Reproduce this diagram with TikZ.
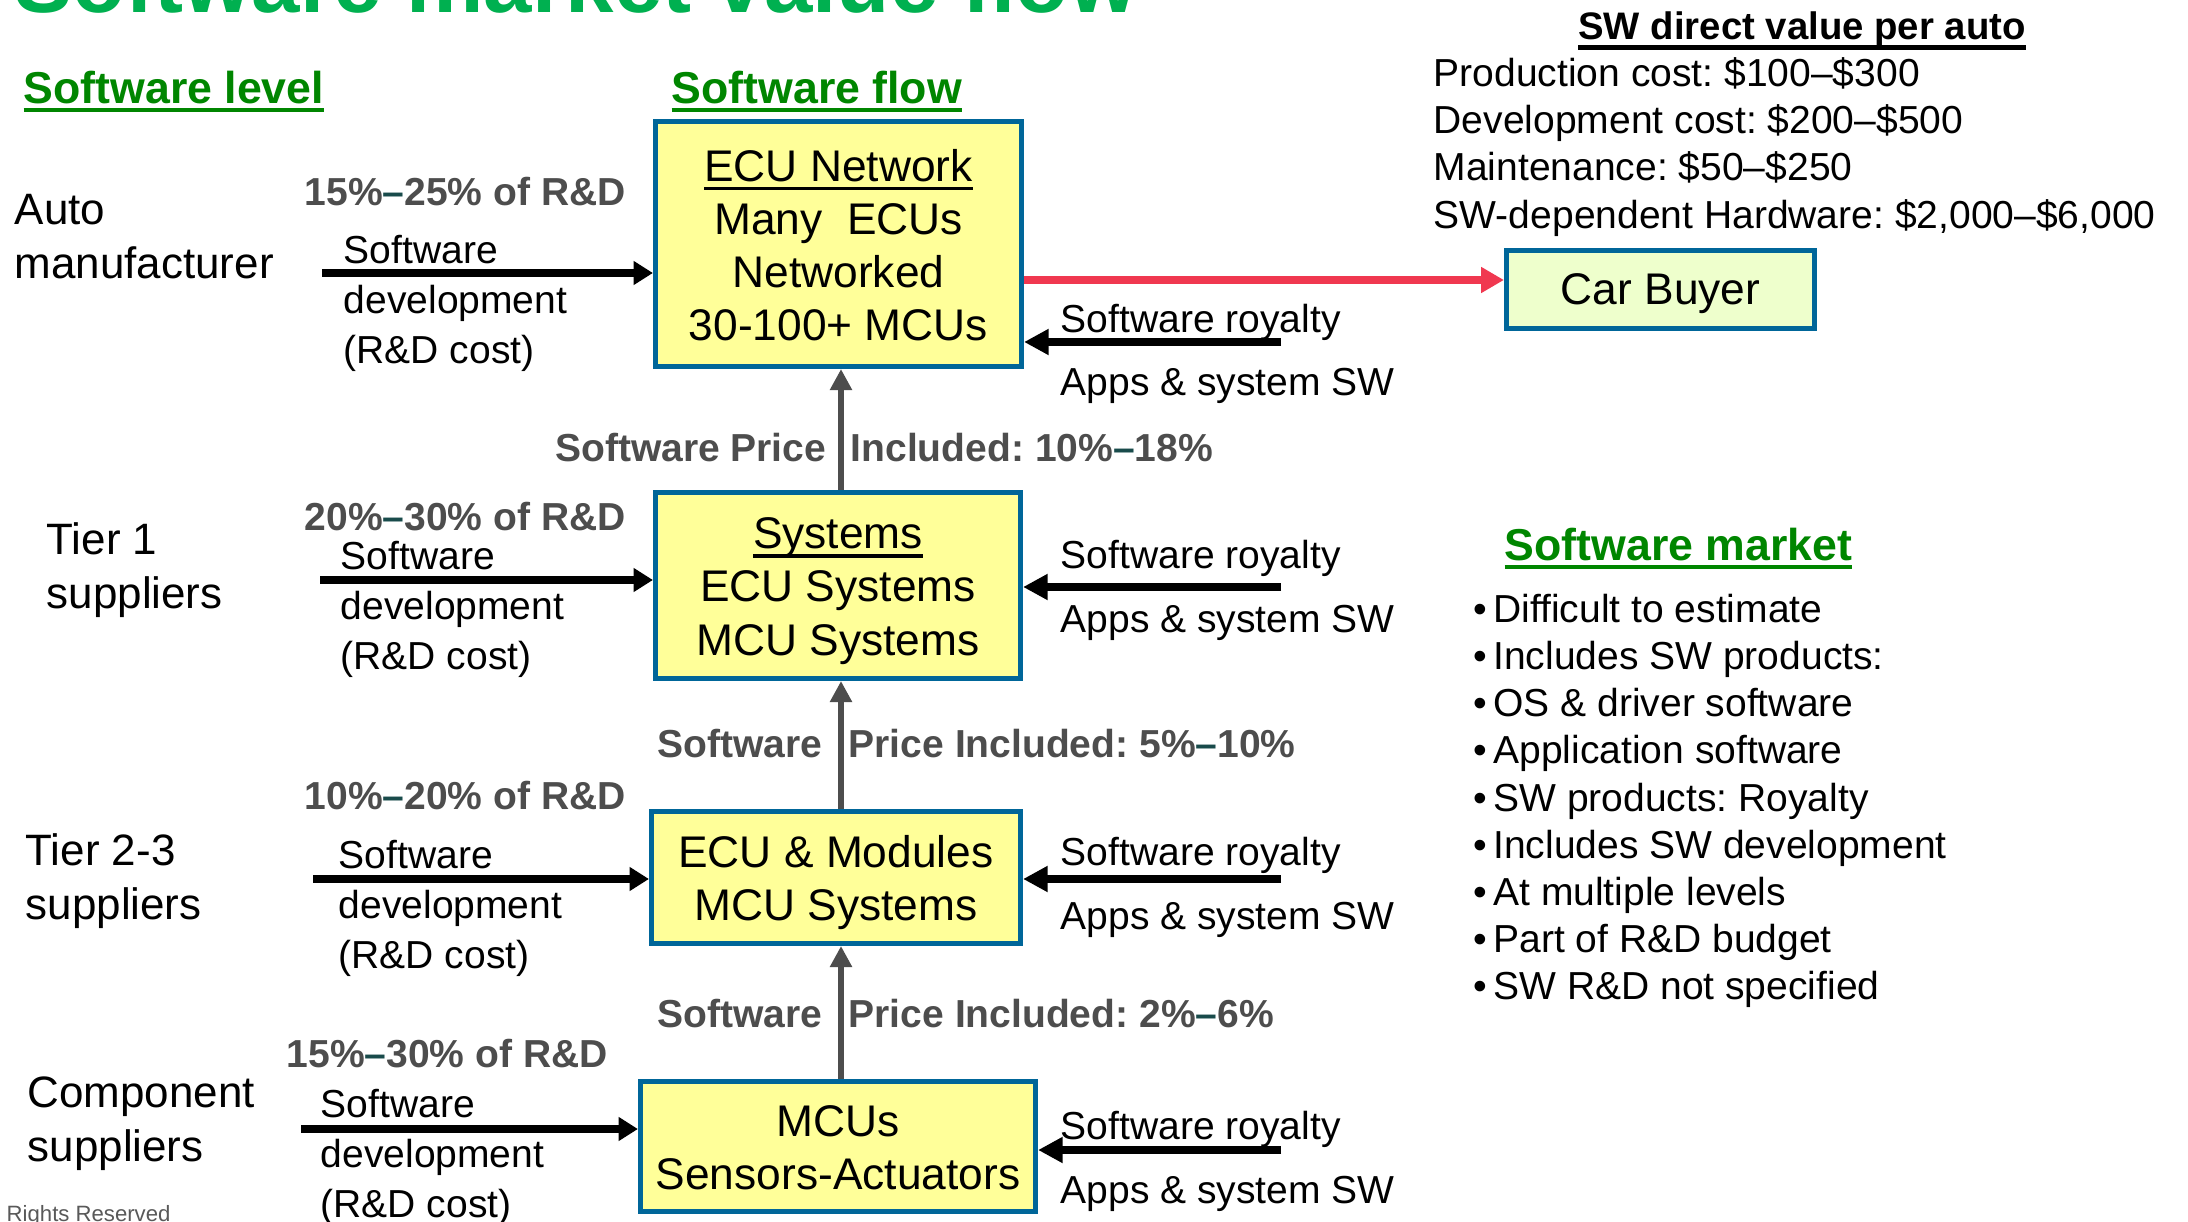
\documentclass[tikz,border=0pt]{standalone}
\usepackage{fontspec}
\setmainfont{Liberation Sans}
\usetikzlibrary{arrows.meta}
\frenchspacing

\definecolor{titlegreen}{RGB}{0,176,80}
\definecolor{hdrgreen}{RGB}{0,134,0}
\definecolor{labgray}{RGB}{77,77,77}
\definecolor{dashteal}{RGB}{25,75,75}
\definecolor{boxblue}{RGB}{0,102,153}
\definecolor{boxyellow}{RGB}{255,255,153}
\definecolor{buyerfill}{RGB}{238,255,204}
\definecolor{arrowred}{RGB}{240,56,80}
\definecolor{arrowgray}{RGB}{77,77,77}
\definecolor{notegray}{RGB}{89,89,89}

% underline with a chosen drop (#1) and thickness (#2)
\newsavebox{\ulbox}
\newcommand{\ulbar}[3]{\sbox{\ulbox}{#3}\leavevmode\rlap{\rule[-#1]{\wd\ulbox}{#2}}\usebox{\ulbox}}
\newcommand{\tdash}{{\color{dashteal}–}}

\begin{document}
\begin{tikzpicture}[x=0.01cm, y=-0.01cm,
  flowbox/.style={draw=boxblue, line width=1.4pt, fill=boxyellow, inner sep=0pt},
  buyerbox/.style={flowbox, fill=buyerfill},
  boxtext/.style={align=center, inner sep=0pt, font=\fontsize{12.6}{15.1}\selectfont},
  lvltext/.style={anchor=west, align=left, inner sep=0pt, font=\fontsize{12.5}{15.4}\selectfont},
  devtext/.style={anchor=west, align=left, inner sep=0pt, font=\fontsize{11.1}{14.2}\selectfont},
  pcttext/.style={anchor=west, inner sep=0pt, text=labgray, font=\bfseries\fontsize{11.1}{13}\selectfont},
  pricetext/.style={inner sep=0pt, text=labgray, font=\bfseries\fontsize{11.1}{13}\selectfont},
  roytext/.style={anchor=west, inner sep=0pt, font=\fontsize{11.1}{13}\selectfont},
  hdrtext/.style={anchor=base west, inner sep=0pt, text=hdrgreen, font=\bfseries\fontsize{12.7}{15}\selectfont},
  listtext/.style={anchor=west, align=left, inner sep=0pt, font=\fontsize{11.1}{13.4}\selectfont},
  devarrow/.style={line width=2.2pt, -{Triangle[length=5.5pt,width=6.5pt]}},
  royarrow/.style={line width=2.3pt, -{Triangle[length=7pt,width=7pt]}},
  buyarrow/.style={draw=arrowred, line width=2pt, -{Triangle[length=6.5pt,width=7pt]}},
  pricearrow/.style={draw=arrowgray, line width=1.7pt, -{Triangle[length=6pt,width=6pt]}},
]
\clip (0,0) rectangle (2188,1222);
\fill[white] (0,0) rectangle (2188,1222);

% title and column headers
\node[anchor=base west, inner sep=0pt, text=titlegreen, font=\bfseries\fontsize{24.75}{29}\selectfont] (title) at (14,13) {Software market value flow};
\node[hdrtext] (hlevel) at (23,104) {\ulbar{2.3pt}{1.1pt}{Software level}};
\node[hdrtext] (hflow) at (671,104) {\ulbar{2.3pt}{1.1pt}{Software flow}};

% value chain boxes
\node[flowbox, minimum width=3.66cm, minimum height=2.45cm] (ecunet) at (838.5,244) {};
\node[flowbox, minimum width=3.65cm, minimum height=1.86cm] (systems) at (838,585.5) {};
\node[flowbox, minimum width=3.69cm, minimum height=1.32cm] (modules) at (836,877.5) {};
\node[flowbox, minimum width=3.95cm, minimum height=1.30cm] (mcus) at (838,1146.5) {};
\node[buyerbox, minimum width=3.08cm, minimum height=0.78cm] (buyer) at (1660.5,289.5) {};

\node[boxtext] (ecunettxt) at ([yshift=-0.3pt]ecunet.center) {\ulbar{2.5pt}{1pt}{ECU Network}\\Many\ \ ECUs\\Networked\\30-100+ MCUs};
\node[boxtext] (systemstxt) at ([yshift=-1.6pt]systems.center) {\ulbar{2.5pt}{1pt}{Systems}\\ECU Systems\\MCU Systems};
\node[boxtext] (modulestxt) at ([yshift=-1.5pt]modules.center) {ECU \& Modules\\MCU Systems};
\node[boxtext] (mcustxt) at ([yshift=-0.3pt]mcus.center) {MCUs\\Sensors-Actuators};
\node[boxtext] (buyertxt) at ([yshift=-1.1pt]buyer.center) {Car Buyer};

% software levels
\node[lvltext] (lauto) at (14,237) {Auto\\manufacturer};
\node[lvltext] (ltier1) at (46,570) {Tier 1\\suppliers};
\node[lvltext] (ltier2) at (25,881) {Tier 2-3\\suppliers};
\node[lvltext] (lcomp) at (27,1124) {Component\\suppliers};

% share of R&D
\node[pcttext] (pct1) at (304,192) {15\%\tdash 25\% of R\&D};
\node[pcttext] (pct2) at (304,517) {20\%\tdash 30\% of R\&D};
\node[pcttext] (pct3) at (304,796) {10\%\tdash 20\% of R\&D};
\node[pcttext] (pct4) at (286,1054) {15\%\tdash 30\% of R\&D};

% software development inputs
\coordinate (d1) at (322,273);
\coordinate (d2) at (320,580);
\coordinate (d3) at (313,879);
\coordinate (d4) at (301,1129);
\draw[devarrow] (d1) -- (d1 -| ecunet.west);
\draw[devarrow] (d2) -- (d2 -| systems.west);
\draw[devarrow] (d3) -- (d3 -| modules.west);
\draw[devarrow] (d4) -- (d4 -| mcus.west);
\node[devtext] (dev1) at (343,303.5) {Software\\development\\(R\&D cost)};
\node[devtext] (dev2) at (340,609) {Software\\development\\(R\&D cost)};
\node[devtext] (dev3) at (338,908) {Software\\development\\(R\&D cost)};
\node[devtext] (dev4) at (320,1157) {Software\\development\\(R\&D cost)};

% price flow between levels
\coordinate (spine) at (841,0);
\draw[pricearrow] (spine |- systems.north) -- (spine |- ecunet.south);
\draw[pricearrow] (spine |- modules.north) -- (spine |- systems.south);
\draw[pricearrow] (spine |- mcus.north) -- (spine |- modules.south);
\node[pricetext, anchor=east] (pr1a) at (827,448) {Software Price};
\node[pricetext, anchor=west] (pr1b) at (850,448) {Included: 10\%\tdash 18\%};
\node[pricetext, anchor=east] (pr2a) at (823,744) {Software};
\node[pricetext, anchor=west] (pr2b) at (848,744) {Price Included: 5\%\tdash 10\%};
\node[pricetext, anchor=east] (pr3a) at (823,1014) {Software};
\node[pricetext, anchor=west] (pr3b) at (848,1014) {Price Included: 2\%\tdash 6\%};

% royalties
\coordinate (r1) at (1281,342);
\coordinate (r2) at (1281,587);
\coordinate (r3) at (1281,879);
\coordinate (r4) at (1281,1150);
\draw[royarrow] (r1) -- (r1 -| ecunet.east);
\draw[royarrow] (r2) -- (r2 -| systems.east);
\draw[royarrow] (r3) -- (r3 -| modules.east);
\draw[royarrow] (r4) -- (r4 -| mcus.east);
\node[roytext] (roy1a) at (1060,322) {Software royalty};
\node[roytext] (roy1b) at (1060,386) {Apps \& system SW};
\node[roytext] (roy2a) at (1060,558) {Software royalty};
\node[roytext] (roy2b) at (1060,622.5) {Apps \& system SW};
\node[roytext] (roy3a) at (1060,855) {Software royalty};
\node[roytext] (roy3b) at (1060,919.5) {Apps \& system SW};
\node[roytext] (roy4a) at (1060,1129) {Software royalty};
\node[roytext] (roy4b) at (1060,1193.5) {Apps \& system SW};

% sale to the car buyer
\coordinate (buyline) at (1300,280);
\draw[buyarrow] (buyline -| ecunet.east) -- (buyline -| buyer.west);

% value per car
\node[anchor=base, inner sep=0pt, font=\bfseries\fontsize{10.9}{13}\selectfont] (swhead) at (1802,40) {\ulbar{2.8pt}{1.4pt}{SW direct value per auto}};
\node[listtext] (swvals) at (1433,147) {Production cost: \$100–\$300\\Development cost: \$200–\$500\\Maintenance: \$50–\$250\\SW-dependent Hardware: \$2,000–\$6,000};

% market notes
\node[hdrtext] (hmarket) at (1504,561) {\ulbar{2.3pt}{1.1pt}{Software market}};
\node[listtext] (mlist) at (1473,801) {\textbullet\hspace{1.7pt}Difficult to estimate\\
\textbullet\hspace{1.7pt}Includes SW products:\\
\textbullet\hspace{1.7pt}OS \& driver software\\
\textbullet\hspace{1.7pt}Application software\\
\textbullet\hspace{1.7pt}SW products: Royalty\\
\textbullet\hspace{1.7pt}Includes SW development\\
\textbullet\hspace{1.7pt}At multiple levels\\
\textbullet\hspace{1.7pt}Part of R\&D budget\\
\textbullet\hspace{1.7pt}SW R\&D not specified};

\node[anchor=base west, inner sep=0pt, text=notegray, font=\fontsize{6.3}{7}\selectfont] (rights) at (6,1221) {Rights Reserved};
\end{tikzpicture}
\end{document}
